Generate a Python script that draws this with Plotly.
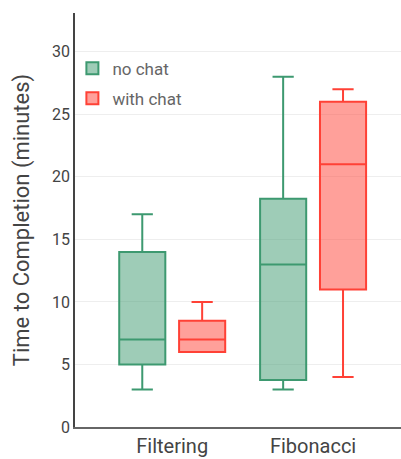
import plotly.graph_objects as go

categories = ["Filtering", "Fibonacci"]

no_chat_low = [3, 3]
no_chat_q1 = [5, 3.75]
no_chat_med = [7, 13]
no_chat_q3 = [14, 18.25]
no_chat_high = [17, 28]

with_chat_low = [6, 4]
with_chat_q1 = [6, 11]
with_chat_med = [7, 21]
with_chat_q3 = [8.5, 26]
with_chat_high = [10, 27]

yticks = [0, 5, 10, 15, 20, 25, 30]

fig = go.Figure()
fig.add_trace(go.Box(
    name="no chat", x=categories, legendgroup="a",
    q1=no_chat_q1, median=no_chat_med, q3=no_chat_q3,
    lowerfence=no_chat_low, upperfence=no_chat_high,
    marker_color="#3D9970", line=dict(color="#3D9970", width=2),
    fillcolor="rgba(61,153,112,0.5)", whiskerwidth=0.46,
))
fig.add_trace(go.Box(
    name="with chat", x=categories, legendgroup="b",
    q1=with_chat_q1, median=with_chat_med, q3=with_chat_q3,
    lowerfence=with_chat_low, upperfence=with_chat_high,
    marker_color="#FF4136", line=dict(color="#FF4136", width=2),
    fillcolor="rgba(255,65,54,0.5)", whiskerwidth=0.46,
))

fig.update_layout(
    width=401, height=459,
    margin=dict(l=75, r=0, t=13, b=32, autoexpand=False),
    paper_bgcolor="white", plot_bgcolor="white",
    boxmode="group", boxgap=0.15, boxgroupgap=0.23,
    font=dict(family="Roboto", color="#444"),
    legend=dict(x=-0.008, y=0.909, xanchor="left", yanchor="top",
                font=dict(size=17, color="#666"), bgcolor="rgba(0,0,0,0)",
                tracegroupgap=5),
    xaxis=dict(type="category", range=[-0.69, 1.624], showline=True,
               linecolor="#666", linewidth=1.5, tickfont=dict(size=20, color="#444"),
               showgrid=False),
    yaxis=dict(range=[0, 33.1], tickvals=yticks, showline=True, linecolor="#444",
               linewidth=1.5, gridcolor="#eee", zeroline=False,
               tickfont=dict(size=16, color="#444"),
               title=dict(text="Time to Completion (minutes)", font=dict(size=22, color="#444"),
                          standoff=16)),
    showlegend=True,
)

fig.write_html("out.html", config={"displayModeBar": False},
               post_script="document.body.style.margin='0';")
